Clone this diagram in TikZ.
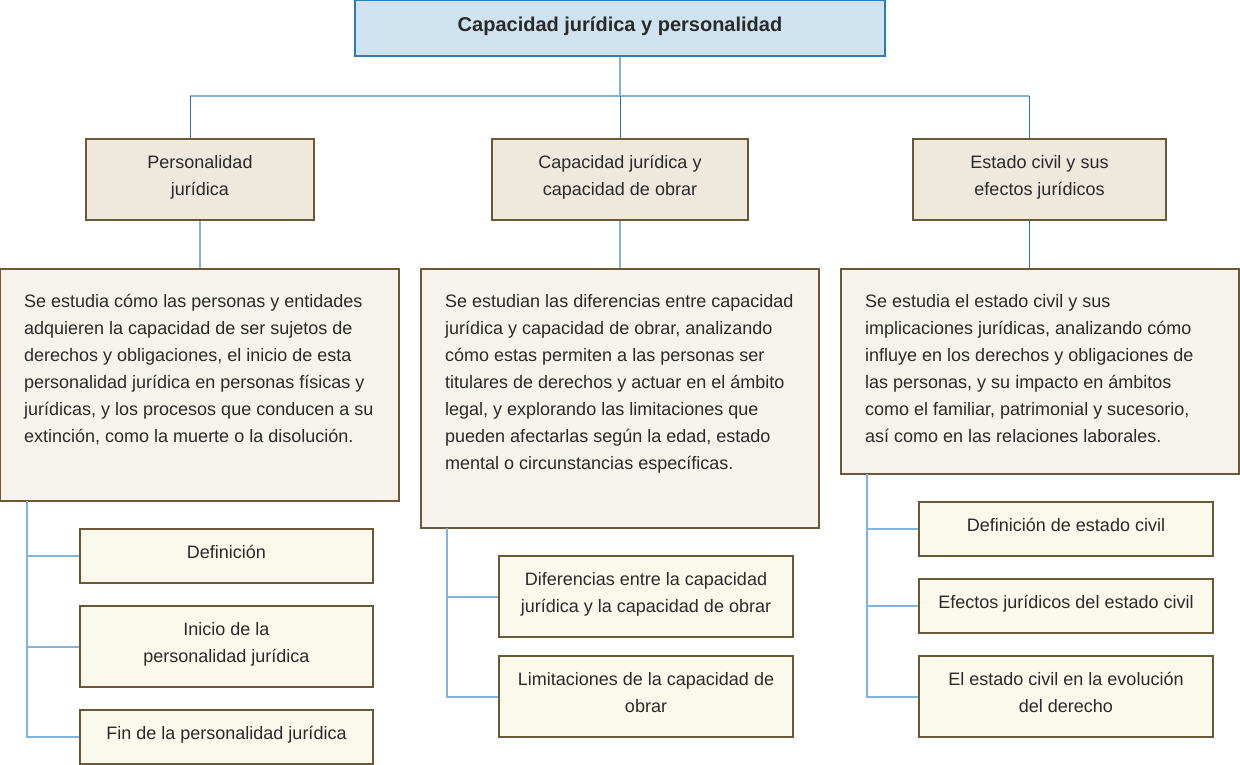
\documentclass[tikz,border=0pt]{standalone}
\usepackage{fontspec}
\setmainfont{Liberation Sans}
\definecolor{titlefill}{HTML}{CFE2EF}
\definecolor{titleline}{HTML}{2B7BBF}
\definecolor{lvfill}{HTML}{EEE8DD}
\definecolor{descfill}{HTML}{F5F3EC}
\definecolor{leaffill}{HTML}{FBF9EB}
\definecolor{boxline}{HTML}{6B5836}
\definecolor{txt}{HTML}{2A2A2A}
\definecolor{lightln}{HTML}{80B4DA}
\definecolor{darkln}{HTML}{2A72B0}
\tikzset{
  base/.style={draw=boxline, line width=1.1pt, inner sep=0pt},
  titlebox/.style={base, draw=titleline, fill=titlefill},
  lvbox/.style={base, fill=lvfill},
  descbox/.style={base, fill=descfill},
  leafbox/.style={base, fill=leaffill},
  ctext/.style={inner sep=0pt, text=txt, align=center, font=\fontsize{18}{27}\selectfont},
  ttext/.style={ctext, font=\fontsize{20}{24}\selectfont\bfseries},
  desctext/.style={anchor=north west, inner sep=0pt, align=left, text=txt,
    font=\fontsize{18}{27}\selectfont},
  light/.style={draw=lightln, line width=2pt},
  dark/.style={draw=darkln, line width=1pt},
}
\newcommand{\firststrut}{\rule{0pt}{15pt}}
\begin{document}
\begin{tikzpicture}[x=1pt,y=-1pt]
\useasboundingbox (0,0) rectangle (1240,765);
% title
\node[titlebox, minimum width=530pt, minimum height=56pt] (t) at (620,28) {};
\node[ttext] (tt) at ([yshift=2pt]t.center) {Capacidad jurídica y personalidad};
% level 2
\node[lvbox, minimum width=228pt, minimum height=81pt] (a) at (200,179.5) {};
\node[lvbox, minimum width=256pt, minimum height=81pt] (b) at (620,179.5) {};
\node[lvbox, minimum width=253pt, minimum height=81pt] (c) at (1039.5,179.5) {};
\node[ctext] (at) at ([yshift=2pt]a.center) {Personalidad\\jurídica};
\node[ctext] (bt) at ([yshift=2pt]b.center) {Capacidad jurídica y\\capacidad de obrar};
\node[ctext] (ct) at ([yshift=2pt]c.center) {Estado civil y sus\\efectos jurídicos};
% description boxes
\node[descbox, minimum width=399pt, minimum height=232pt] (da) at (199.5,385) {};
\node[descbox, minimum width=398pt, minimum height=259pt] (db) at (620,398.5) {};
\node[descbox, minimum width=398pt, minimum height=205pt] (dc) at (1040,371.5) {};
\node[desctext] (dta) at (24,292) {\firststrut Se estudia cómo las personas y entidades\\adquieren la capacidad de ser sujetos de\\derechos y obligaciones, el inicio de esta\\personalidad jurídica en personas físicas y\\jurídicas, y los procesos que conducen a su\\extinción, como la muerte o la disolución.};
\node[desctext] (dtb) at (445,292) {\firststrut Se estudian las diferencias entre capacidad\\jurídica y capacidad de obrar, analizando\\cómo estas permiten a las personas ser\\titulares de derechos y actuar en el ámbito\\legal, y explorando las limitaciones que\\pueden afectarlas según la edad, estado\\mental o circunstancias específicas.};
\node[desctext] (dtc) at (865,292) {\firststrut Se estudia el estado civil y sus\\implicaciones jurídicas, analizando cómo\\influye en los derechos y obligaciones de\\las personas, y su impacto en ámbitos\\como el familiar, patrimonial y sucesorio,\\así como en las relaciones laborales.};
% leaves A
\node[leafbox, minimum width=293pt, minimum height=54pt] (la1) at (226.5,556) {};
\node[leafbox, minimum width=293pt, minimum height=81pt] (la2) at (226.5,646.5) {};
\node[leafbox, minimum width=293pt, minimum height=54pt] (la3) at (226.5,737) {};
\node[ctext] (la1t) at ([yshift=4pt]la1.center) {Definición};
\node[ctext] (la2t) at ([yshift=2pt]la2.center) {Inicio de la\\personalidad jurídica};
\node[ctext] (la3t) at ([yshift=2pt]la3.center) {Fin de la personalidad jurídica};
% leaves B
\node[leafbox, minimum width=294pt, minimum height=81pt] (lb1) at (646,596.5) {};
\node[leafbox, minimum width=294pt, minimum height=81pt] (lb2) at (646,696.5) {};
\node[ctext] (lb1t) at ([yshift=2pt]lb1.center) {Diferencias entre la capacidad\\jurídica y la capacidad de obrar};
\node[ctext] (lb2t) at ([yshift=4pt]lb2.center) {Limitaciones de la capacidad de\\obrar};
% leaves C
\node[leafbox, minimum width=294pt, minimum height=54pt] (lc1) at (1066,529) {};
\node[leafbox, minimum width=294pt, minimum height=54pt] (lc2) at (1066,606) {};
\node[leafbox, minimum width=294pt, minimum height=81pt] (lc3) at (1066,696.5) {};
\node[ctext] (lc1t) at ([yshift=4pt]lc1.center) {Definición de estado civil};
\node[ctext] (lc2t) at ([yshift=2pt]lc2.center) {Efectos jurídicos del estado civil};
\node[ctext] (lc3t) at ([yshift=4pt]lc3.center) {El estado civil en la evolución\\del derecho};
% connectors top
\coordinate (barL) at (190,96);
\coordinate (barR) at (1029,96);
\coordinate (barM) at (620,96);
\draw[light] (t.south) -- (barM);
\draw[light] (barL) -- (barR);
\draw[dark] (barL) -- (barL |- a.north);
\draw[dark] (barM) -- (b.north);
\draw[dark] (barR) -- (barR |- c.north);
% level 2 to descriptions
\draw[light] (a.south) -- (a.south |- da.north);
\draw[light] (b.south) -- (db.north);
\coordinate (cdrop) at (1029,220);
\draw[dark] (cdrop) -- (cdrop |- dc.north);
% trunks
\coordinate (ta) at (27,501);
\draw[light] (ta) |- (la3.west);
\draw[light] (ta |- la1.west) -- (la1.west);
\draw[light] (ta |- la2.west) -- (la2.west);
\coordinate (tb) at (447,528);
\draw[light] (tb) |- (lb2.west);
\draw[light] (tb |- lb1.west) -- (lb1.west);
\coordinate (tc) at (867,474);
\draw[light] (tc) |- (lc3.west);
\draw[light] (tc |- lc1.west) -- (lc1.west);
\draw[light] (tc |- lc2.west) -- (lc2.west);
\end{tikzpicture}
\end{document}
